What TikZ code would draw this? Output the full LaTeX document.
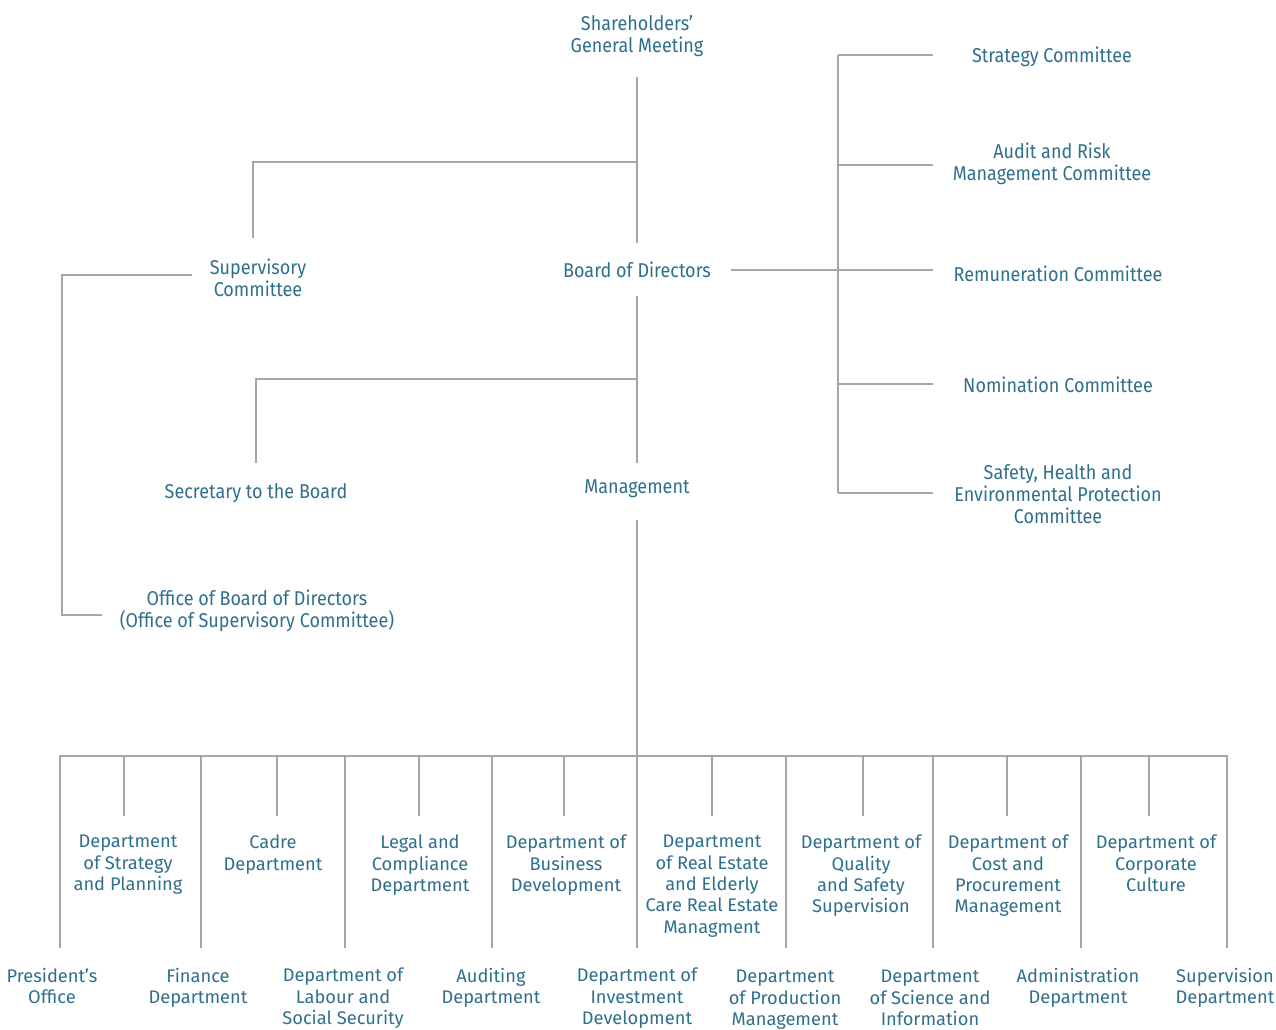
\documentclass[tikz,border=0pt]{standalone}
\usepackage{fontspec}
\setmainfont{Fira Sans}
\newfontfamily\condfont[FakeStretch=0.9]{Fira Sans}
\newfontfamily\regfont{Fira Sans}
\definecolor{txt}{HTML}{2F6F8C}
\definecolor{ln}{HTML}{A6A6A6}
\tikzset{
  top/.style={text=txt, align=center, font=\condfont\fontsize{15}{16.5}\selectfont, inner sep=0pt},
  dept/.style={text=txt, align=center, font=\regfont\fontsize{13.7}{16}\selectfont, inner sep=0pt},
  conn/.style={draw=ln, line width=0.9pt}
}
\begin{document}
\begin{tikzpicture}[x=0.75pt,y=-0.75pt]
\useasboundingbox (0,0) rectangle (1276,1030);
% top part
\node[top] (sh) at (637,36) {Shareholders’\\General Meeting};
\node[top] (bd) at (637,270) {Board of Directors};
\node[top] (sc) at (258,278) {Supervisory\\Committee};
\node[top] (sb) at (256,493) {Secretary to the Board};
\node[top] (mg) at (637,489) {Management};
\node[top] (ob) at (257,611) {Office of Board of Directors\\(Office of Supervisory Committee)};
\node[top] (c1) at (1052,57) {Strategy Committee};
\node[top] (c2) at (1052,164) {Audit and Risk\\Management Committee};
\node[top] (c3) at (1058,274) {Remuneration Committee};
\node[top] (c4) at (1058,385) {Nomination Committee};
\node[top] (c5) at (1058,494) {Safety, Health and\\Environmental Protection\\Committee};
% coordinates
\coordinate (shb) at (637,77);
\coordinate (bdt) at (637,243);
\coordinate (j1) at (637,162);
\coordinate (j1l) at (253,162);
\coordinate (sct) at (253,238);
\coordinate (bdr) at (731,270);
\coordinate (cvt) at (838,55);
\coordinate (cvb) at (838,493);
\coordinate (scl) at (192,275);
\coordinate (scv) at (62,275);
\coordinate (obv) at (62,615);
\coordinate (obl) at (102,615);
\coordinate (bdb) at (637,296);
\coordinate (j2) at (637,379);
\coordinate (j2l) at (256,379);
\coordinate (sbt) at (256,463);
\coordinate (mgt) at (637,463);
\coordinate (mgb) at (637,520);
% top connectors
\draw[conn] (shb) -- (bdt);
\draw[conn] (j1) -- (j1l) -- (sct);
\draw[conn] (bdr) -- (933,270);
\draw[conn] (cvt) -- (cvb);
\foreach \y in {55,165,384,493} \draw[conn] (838,\y) -- (933,\y);
\draw[conn] (scl) -- (scv) -- (obv) -- (obl);
\draw[conn] (bdb) -- (mgt);
\draw[conn] (j2) -- (j2l) -- (sbt);
\draw[conn] (mgb) -- (637,948);
\draw[conn] (60,948) -- (60,756) -- (1227,756) -- (1227,948);
\foreach \x in {201,345,492,786,933,1081} \draw[conn] (\x,756) -- (\x,948);
\foreach \x in {124,277,419,564,712,863,1007,1149} \draw[conn] (\x,756) -- (\x,816);
% upper dept row
\node[dept,anchor=north] (u1) at (128,835) {Department\\of Strategy\\and Planning};
\node[dept,anchor=north] (u2) at (273,835) {Cadre\\Department};
\node[dept,anchor=north] (u3) at (420,835) {Legal and\\Compliance\\Department};
\node[dept,anchor=north] (u4) at (566,835) {Department of\\Business\\Development};
\node[dept,anchor=north] (u5) at (712,835) {Department\\of Real Estate\\and Elderly\\Care Real Estate\\Managment};
\node[dept,anchor=north] (u6) at (861,835) {Department of\\Quality\\and Safety\\Supervision};
\node[dept,anchor=north] (u7) at (1008,835) {Department of\\Cost and\\Procurement\\Management};
\node[dept,anchor=north] (u8) at (1156,835) {Department of\\Corporate\\Culture};
% lower dept row
\node[dept,anchor=north] (l1) at (52,968) {President’s\\Office};
\node[dept,anchor=north] (l2) at (198,968) {Finance\\Department};
\node[dept,anchor=north] (l3) at (343,968) {Department of\\Labour and\\Social Security};
\node[dept,anchor=north] (l4) at (491,968) {Auditing\\Department};
\node[dept,anchor=north] (l5) at (637,968) {Department of\\Investment\\Development};
\node[dept,anchor=north] (l6) at (785,970) {Department\\of Production\\Management};
\node[dept,anchor=north] (l7) at (930,970) {Department\\of Science and\\Information};
\node[dept,anchor=north] (l8) at (1078,968) {Administration\\Department};
\node[dept,anchor=north] (l9) at (1225,968) {Supervision\\Department};
\end{tikzpicture}
\end{document}
